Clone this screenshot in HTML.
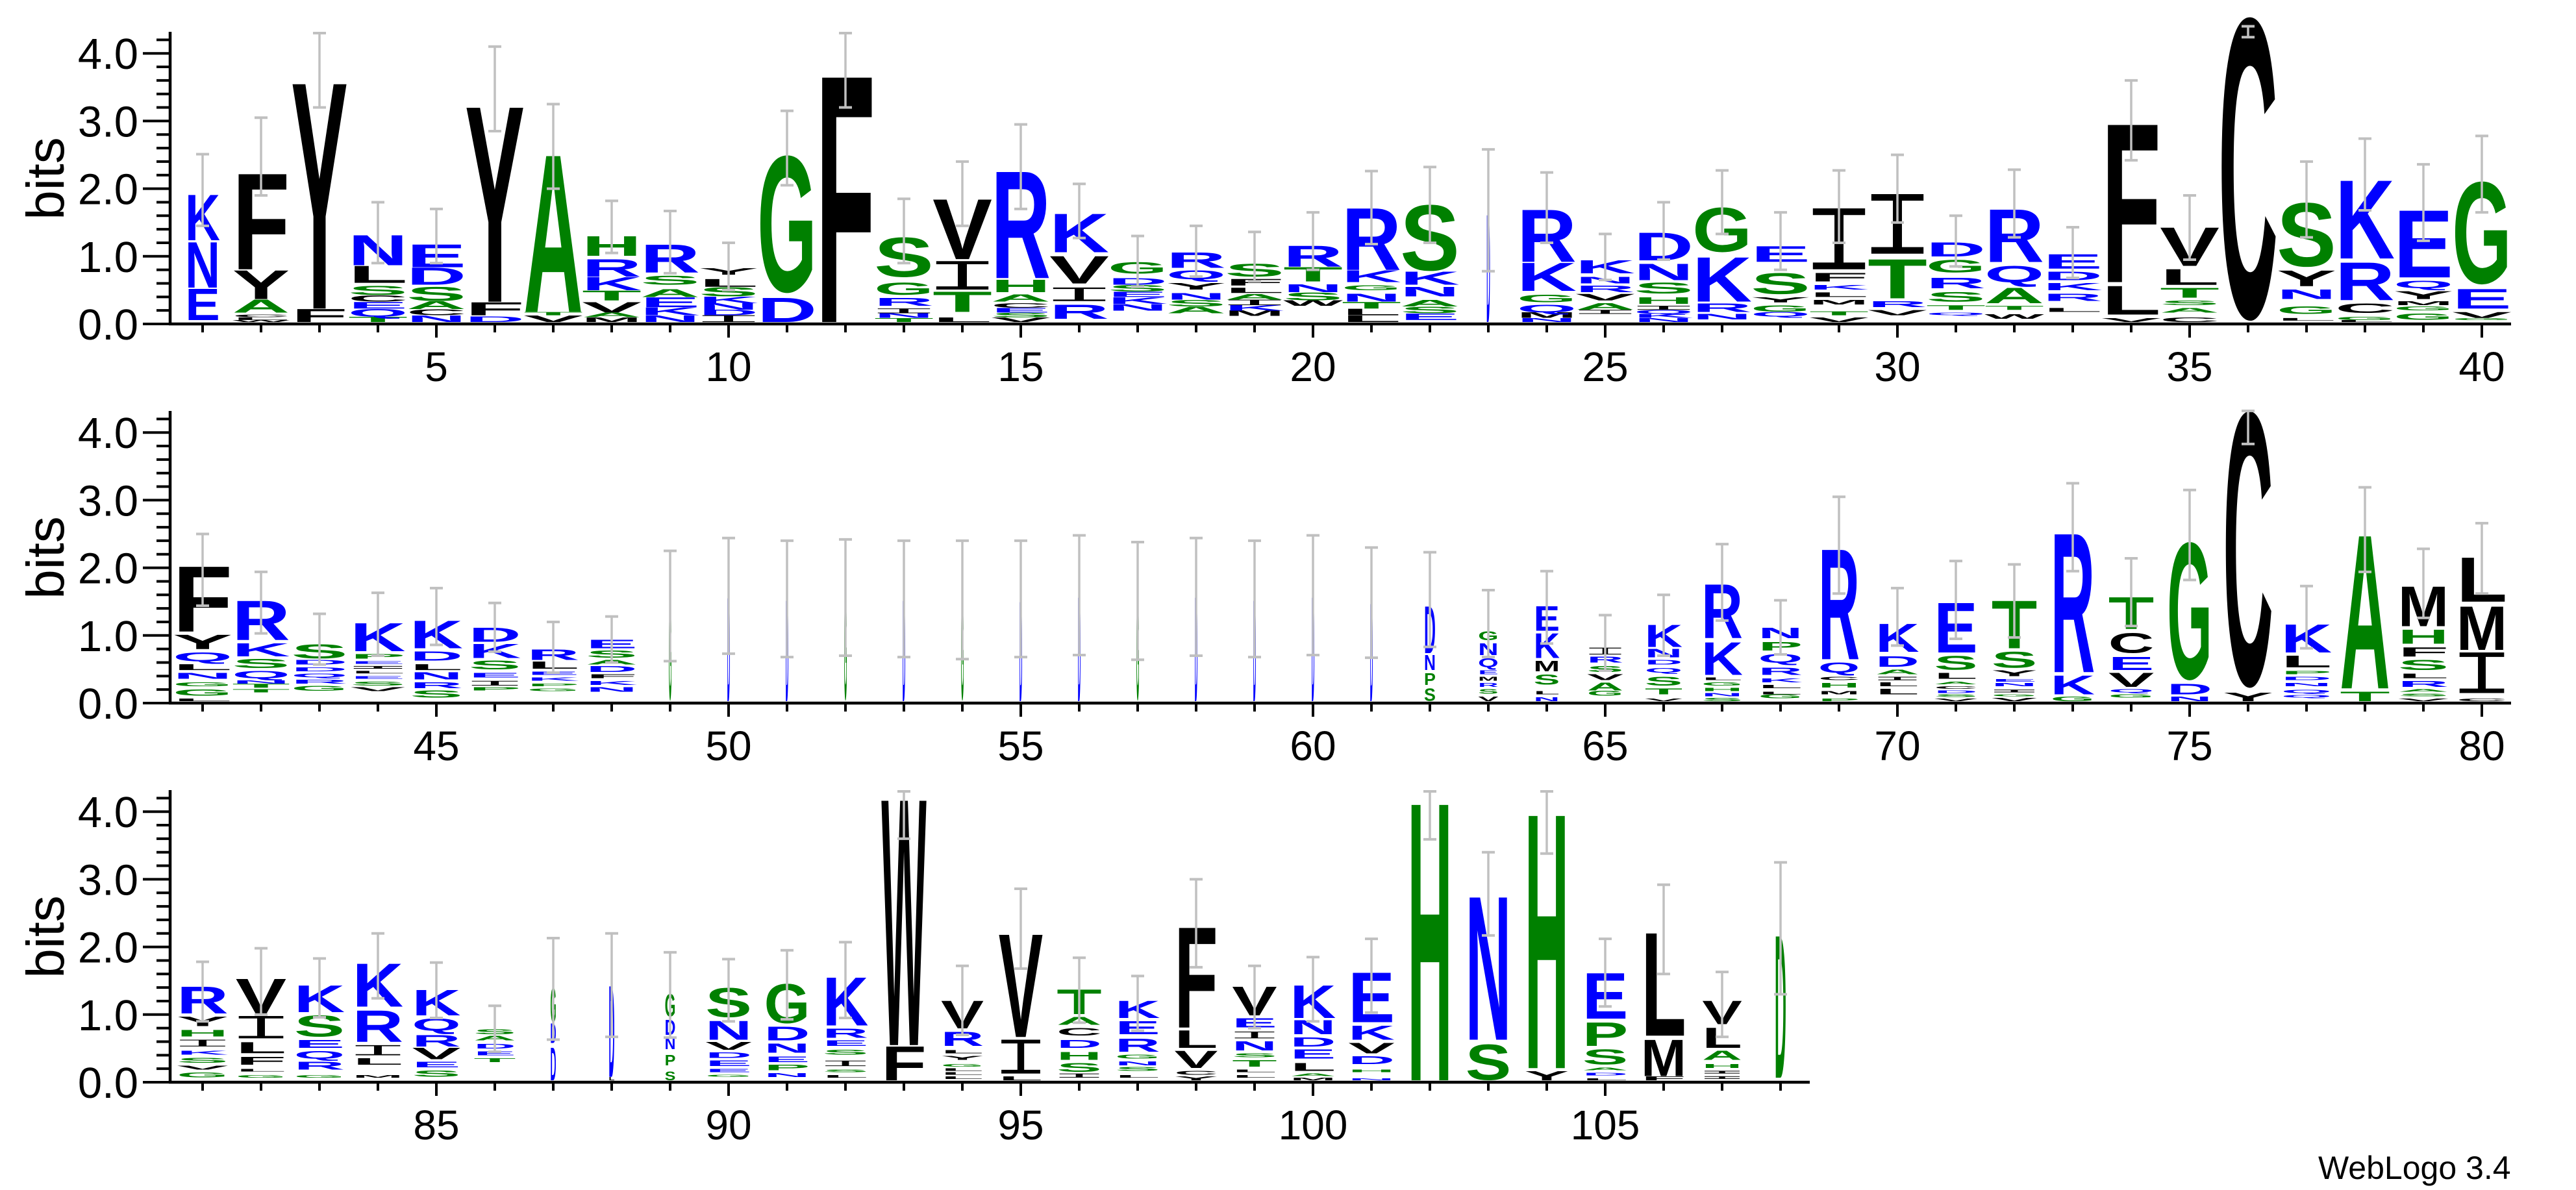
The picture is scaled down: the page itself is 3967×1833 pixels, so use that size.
<!DOCTYPE html>
<html><head><meta charset="utf-8"><style>
html,body{margin:0;padding:0;background:#fff;}
svg{display:block;font-family:"Liberation Sans",Arial,sans-serif;}
</style></head><body>
<svg id="s" width="3967" height="1833" viewBox="0 0 3967 1833" xmlns="http://www.w3.org/2000/svg">
<rect width="3967" height="1833" fill="#fff"/>
<g id="axes" font-size="67" fill="#000">
<text x="0" y="0" transform="translate(98,275) rotate(-90)" text-anchor="middle" font-size="82">bits</text>
<text x="0" y="0" transform="translate(98,859) rotate(-90)" text-anchor="middle" font-size="82">bits</text>
<text x="0" y="0" transform="translate(98,1443) rotate(-90)" text-anchor="middle" font-size="82">bits</text>
<text x="3570" y="1816" font-size="50">WebLogo 3.4</text>
</g>
<g id="logo"></g>
</svg>
<script>
var D=[
[48,1.45,2.51,"_.03 E.48 N.7 K.7"],
[79,1.9,3.05,"W.03 L.04 C.04 _.03 A.2 Y.44 F1.47"],
[78,3.2,4.3,"F.2 Y3.47"],
[82,.9,1.8,"T.08 Q.12 E.1 C.1 S.14 _.04 L.26 N.46"],
[82,.9,1.7,"N.1 C.09 A.12 S.22 _.02 D.26 E.35"],
[82,2.85,4.1,"D.08 _.02 F.2 Y3.0"],
[82,2.0,3.25,"V.1 T.05 A2.41"],
[82,1.05,1.82,"M.07 A.07 V.16 _.02 T.15 K.2 R.27 _.04 H.3"],
[82,.75,1.67,"N.1 K.12 E.15 A.12 _.06 S.14 _.04 R.43"],
[82,.5,1.2,"I.1 D.08 N.1 K.1 S.14 L.12 _.06 Y.1"],
[82,2.05,3.15,"D.37 _.05 G2.14"],
[82,3.2,4.3,"F3.78"],
[82,.9,1.85,"T.06 N.07 I.07 _.04 R.12 _.04 G.19 _.07 S.62"],
[82,1.45,2.4,"L.07 _.08 T.31 _.02 I.42 _.03 V.92"],
[82,1.7,2.95,"V.07 S.07 E.07 C.07 _.02 A.11 _.03 H.19 _.02 R1.64"],
[82,1.27,2.07,"_.05 R.22 _.04 I.2 _.06 V.42 _.04 K.59"],
[82,.55,1.3,"_.17 N.1 K.1 E.08 S.1 D.1 _.06 G.18"],
[82,.7,1.45,"_.13 A.1 S.1 N.1 _.05 Y.1 _.05 Q.14 _.03 R.24"],
[82,.63,1.36,"_.09 M.08 K.08 I.08 A.08 _.02 L.08 _.03 F.1 _.03 S.2"],
[82,.8,1.65,"_.24 W.08 S.12 N.12 _.04 T.22 R.32"],
[82,1.18,2.26,"L.1 L.1 T.1 N.12 _.05 G.08 _.04 K.18 R.95"],
[82,1.2,2.32,"_.03 E.1 S.1 A.1 _.05 N.15 _.02 K.2 S1.03"],
[5,.78,2.58,"D1.65"],
[82,1.2,2.24,"N.06 M.08 Q.12 _.03 G.12 _.05 K.43 R.8"],
[82,.65,1.33,"_.12 I.06 A.1 _.04 V.1 _.02 R.1 _.03 N.1 _.05 K.2"],
[82,.95,1.8,"N.06 K.06 Q.06 I.06 _.03 H.1 _.05 S.17 _.03 N.25 _.04 D.42"],
[82,1.33,2.27,"_.04 N.08 _.03 R.13 _.02 K.68 _.05 G.7"],
[82,.8,1.65,"_.08 Q.07 G.1 _.04 Y.08 _.04 S.33 _.15 E.24"],
[82,1.2,2.27,"V.07 _.03 T.06 _.1 M.07 _.04 L.07 _.04 K.07 _.05 F.13 _.05 I.9"],
[82,1.5,2.5,"_.1 V.08 _.04 R.09 _.04 T.6 _.06 I.88"],
[82,.85,1.6,"_.1 Q.04 _.04 T.07 _.05 S.15 _.05 R.16 _.07 G.2 _.04 D.22"],
[82,1.28,2.28,"_.05 W.07 _.06 T.06 _.04 A.24 _.06 Q.26 _.05 R.81"],
[82,.68,1.43,"_.15 L.06 _.1 R.11 _.05 K.11 _.04 D.13 _.04 E.22"],
[82,2.42,3.6,"V.06 _.05 L.44 _.04 F2.43"],
[82,.95,1.9,"C.07 _.07 A.07 _.04 S.07 _.04 T.15 _.04 L.24 _.04 V.59"],
[82,4.24,4.4,"C4.72"],
[82,1.28,2.4,"_.02 L.04 _.06 G.12 _.1 N.15 _.04 Y.24 _.04 S1.0"],
[82,1.68,2.74,"L.03 G.05 _.05 C.15 _.04 R.58 _.04 K1.2"],
[82,1.23,2.36,"_.03 G.1 _.04 G.06 _.02 M.06 _.03 Y.12 _.04 Q.11 _.05 E1.03"],
[82,1.65,2.78,"_.03 G.03 V.09 _.05 E.3 _.05 G1.6"],
[82,1.44,2.5,"L.04 _.04 G.1 _.04 G.06 _.05 N.09 _.04 L.09 _.04 Q.14 _.04 Y.22 _.04 F1.0"],
[80,1.03,1.94,"_.1 _.03 T.05 _.02 T.06 N.05 _.03 Q.11 _.04 S.14 _.03 K.2 _.04 R.6"],
[78,.57,1.32,"_.15 G.08 _.03 R.06 _.03 Q.06 _.03 D.06 _.04 D.07 _.02 S.22"],
[76,.7,1.63,"_.15 V.06 _.02 S.06 _.04 E.04 _.04 L.04 _.03 I.04 _.03 E.04 _.04 P.07 _.04 K.43"],
[73,.86,1.7,"_.05 S.11 _.03 R.09 _.04 N.11 _.03 L.09 _.05 D.14 _.04 K.42"],
[72,.76,1.48,"_.16 P.05 _.02 I.07 _.05 E.07 _.05 S.14 _.03 K.22 _.02 D.22"],
[72,.45,1.2,"_.15 G.04 _.03 P.04 _.04 K.05 _.04 E.05 _.04 L.11 _.02 R.16"],
[71,.6,1.28,"_.14 N.07 _.03 K.06 _.04 F.06 _.03 D.09 _.02 A.07 _.03 S.11 _.03 E.13"],
[4,.62,2.25,"G1.44"],[4,.73,2.44,"D1.59"],[4,.68,2.4,"D1.55"],[4,.7,2.42,"G1.57"],
[4,.68,2.4,"D1.55"],[4,.65,2.4,"G1.5"],[4,.68,2.4,"D1.53"],[4,.71,2.48,"D1.6"],
[4,.64,2.38,"G1.5"],[4,.7,2.44,"D1.6"],[4,.68,2.4,"D1.55"],[4,.71,2.48,"D1.6"],[4,.67,2.3,"D1.5"],
[16,.83,2.23,"S.2 _.04 P.18 _.04 N.23 _.02 D.72"],
[28,.68,1.67,"V.07 _.04 S.07 _.03 R.06 _.03 M.06 _.04 E.06 _.04 Q.14 _.04 N.18 _.04 G.14"],
[36,.88,1.95,"N.06 _.04 L.05 _.09 S.16 _.04 M.16 _.04 K.38 _.02 E.38"],
[50,.48,1.3,"_.08 G.08 A.12 _.03 V.09 _.03 S.09 _.05 R.09 _.03 I.1"],
[52,.7,1.6,"V.04 _.06 T.09 _.04 S.14 _.05 Q.07 _.05 D.07 _.04 N.13 _.02 K.34"],
[57,1.22,2.35,"S.05 _.02 N.05 _.03 H.05 _.03 G.05 _.03 L.04 _.04 K.5 _.04 R.83"],
[61,.72,1.52,"_.04 G.06 L.04 _.05 L.05 _.04 K.06 _.05 R.11 _.07 Q.13 _.05 P.13 _.05 N.16"],
[57,1.62,3.05,"P.04 _.06 M.05 _.05 H.07 _.04 C.05 _.06 Q.16 _.04 R1.69"],
[60,.85,1.7,"_.1 L.08 _.04 L.06 _.03 I.05 _.04 A.07 _.04 D.16 _.06 K.43"],
[60,.95,2.1,"V.04 _.02 S.04 _.02 D.04 _.02 C.04 _.03 A.04 _.04 L.09 _.04 S.22 _.04 E.76"],
[63,.97,2.05,"V.05 _.02 G.03 _.03 I.04 _.05 N.05 _.02 E.04 _.04 Y.09 _.03 S.25 _.04 T.73"],
[61,1.95,3.25,"G.07 _.03 K.29 _.04 R2.13"],
[63,1.14,2.14,"_.05 G.05 _.03 Q.05 _.03 V.22 _.03 E.2 _.05 C.31 _.05 T.49"],
[62,1.82,3.15,"N.07 _.03 D.16 _.04 G2.15"],
[69,3.83,4.32,"Y.13 _.05 C4.3"],
[70,.81,1.73,"_.05 Q.04 _.03 Q.05 _.05 N.05 _.04 D.05 _.04 P.05 _.05 L.18 _.04 K.43"],
[69,1.94,3.19,"T.15 _.04 A2.35"],
[70,1.26,2.28,"V.04 _.03 S.04 _.03 A.04 _.03 R.09 _.04 L.07 _.05 S.16 _.04 F.14 _.05 H.22 _.04 M.61"],
[70,1.62,2.66,"C.04 _.08 I.6 _.04 M.67 _.04 L.68"],
[71,.9,1.78,"_.04 G.08 _.04 V.06 _.04 S.08 _.04 K.06 _.06 I.1 _.05 H.1 _.05 Y.15 _.04 R.41"],
[70,1.0,1.98,"_.04 G.04 _.05 L.04 _.06 F.12 _.05 L.17 _.05 I.33 _.04 V.53"],
[70,.96,1.83,"_.04 G.04 _.08 R.12 _.04 Q.12 _.04 E.12 _.04 S.33 _.04 K.41"],
[70,1.24,2.2,"_.04 M.04 _.15 L.1 _.04 I.15 _.05 R.48 _.04 K.66"],
[67,.95,1.77,"_.05 S.1 _.04 E.08 _.04 V.17 _.02 R.17 _.06 Q.19 _.04 K.39"],
[58,.45,1.13,"_.27 T.06 _.04 E.06 _.04 D.07 _.05 A.07 _.02 S.08"],
[8,.63,2.13,"D.5 _.05 D.3 G.54"],
[8,.67,2.2,"L.05 D1.4"],
[15,.66,1.92,"S.14 _.08 P.16 _.08 N.17 _.04 D.23 _.04 G.35"],
[64,.9,1.82,"_.05 G.03 _.04 E.05 _.04 E.08 _.04 D.08 _.04 V.12 _.03 N.29 _.04 S.46"],
[63,.93,1.95,"_.05 N.06 _.04 P.08 _.04 E.08 _.06 N.14 _.04 D.21 _.04 G.62"],
[63,.95,2.07,"_.04 L.04 _.04 S.04 _.05 I.08 _.09 S.08 _.05 E.08 _.04 R.14 _.04 K.74"],
[62,3.6,4.3,"F.52 W3.78"],
[59,.7,1.72,"_.02 L.04 _.02 L.04 _.02 L.04 _.02 G.04 _.06 Y.06 _.04 L.05 _.06 R.22 _.04 V.42"],
[61,1.68,2.86,"L.06 _.04 I.5 _.04 V1.58"],
[62,.88,1.84,"_.04 I.06 _.02 S.14 _.04 H.12 _.06 D.12 _.06 C.12 _.04 A.12 _.04 T.38"],
[62,.76,1.57,"_.04 L.04 _.06 S.06 _.02 N.06 _.04 G.06 _.04 R.2 _.06 E.2 _.04 K.26"],
[60,1.7,3.0,"Y.06 _.02 C.06 _.04 V.26 _.04 L.27 _.03 F1.54"],
[62,.8,1.72,"_.04 L.04 _.04 L.04 _.04 T.1 _.04 S.06 _.04 N.14 _.04 I.1 _.06 E.14 _.04 V.44"],
[63,.9,1.85,"M.04 _.02 A.04 _.04 L.12 _.06 E.14 _.04 D.14 _.04 N.22 _.02 K.5"],
[64,1.03,2.12,"N.03 _.09 H.04 _.08 D.12 _.04 V.16 _.04 K.22 _.04 E.76"],
[62,3.59,4.3,"H4.26"],
[63,2.17,3.4,"S.56 _.04 N2.2"],
[61,3.38,4.3,"Y.14 _.04 H3.9"],
[63,1.12,2.12,"L.03 _.04 D.04 _.04 A.04 _.04 S.24 _.04 P.36 _.04 E.7"],
[62,1.6,2.92,"F.06 M.56 _.04 L1.58"],
[55,.67,1.63,"_.02 I.04 _.04 I.04 _.04 H.06 _.06 A.14 _.04 L.31 _.04 V.36"],
[16,1.3,3.25,"O2.26"]
];
var COL={K:"#0000ff",R:"#0000ff",N:"#0000ff",D:"#0000ff",E:"#0000ff",Q:"#0000ff",
G:"#008000",S:"#008000",T:"#008000",H:"#008000",A:"#008000",P:"#008000",O:"#008000"};
var BASE=[499,1083,1667],BIT=104.2,NS="http://www.w3.org/2000/svg";
var g=document.getElementById("logo"),ax=document.getElementById("axes");
function el(t,a,txt){var e=document.createElementNS(NS,t);for(var k in a)e.setAttribute(k,a[k]);if(txt!=null)e.textContent=txt;return e;}
D.forEach(function(c,i){
 var p=Math.floor(i/40),cx=312+90*(i%40),b=BASE[p]-3,w=c[0];
 var y=b;
 c[3].split(" ").forEach(function(t){
  var L=t[0],h=parseFloat(t.slice(1))*BIT;
  if(L=="I"&&h>0.5){
   var bw=w*0.98,bh=Math.max(h*0.11,1),sw=w*0.17,x0=cx-bw/2,yt=y-h;
   var d="M"+x0+","+yt+"h"+bw+"v"+bh+"h"+(-(bw-sw)/2)+"V"+(y-bh)+"h"+((bw-sw)/2)+"v"+bh+"h"+(-bw)+"v"+(-bh)+"h"+((bw-sw)/2)+"V"+(yt+bh)+"h"+(-(bw-sw)/2)+"z";
   g.appendChild(el("path",{d:d,fill:"#000"}));
  } else if(L!="_"&&h>0.5){
   var tw=w*1.12,sx=tw/100,sy=h/72;
   var round="CGOQS".indexOf(L)>=0;
   if(round)sy=h/74.5;
   var e=el("text",{transform:"translate("+(cx-tw/2).toFixed(1)+","+(y-(round?h*0.017:0)).toFixed(1)+") scale("+sx.toFixed(4)+","+sy.toFixed(4)+")",
    "font-size":"100","font-weight":"bold",fill:COL[L]||"#000",textLength:"100",lengthAdjust:"spacingAndGlyphs"},L=="O"?"D":L);
   g.appendChild(e);
  }
  y-=h;
 });
 var y1=BASE[p]-c[1]*BIT,y2=BASE[p]-c[2]*BIT;
 g.appendChild(el("line",{x1:cx,x2:cx,y1:y1,y2:y2,stroke:"#c0c0c0","stroke-width":3.5}));
 g.appendChild(el("line",{x1:cx-10,x2:cx+10,y1:y1,y2:y1,stroke:"#c0c0c0","stroke-width":4}));
 g.appendChild(el("line",{x1:cx-10,x2:cx+10,y1:y2,y2:y2,stroke:"#c0c0c0","stroke-width":4}));
});
for(var p=0;p<3;p++){
 var b=BASE[p],n=p<2?40:28,xe=312+90*(n-1)+45;
 ax.appendChild(el("line",{x1:262,x2:262,y1:b-450,y2:b+2,stroke:"#000","stroke-width":4.5}));
 ax.appendChild(el("line",{x1:260,x2:xe,y1:b,y2:b,stroke:"#000","stroke-width":4.5}));
 for(var k=0;k<=21;k++){
  var yy=b-k*0.2*BIT,maj=(k%5==0);
  ax.appendChild(el("line",{x1:maj?220:241,x2:262,y1:yy,y2:yy,stroke:"#000","stroke-width":4}));
  if(maj)ax.appendChild(el("text",{x:213,y:yy+24,"text-anchor":"end","font-size":"67"},(k/5).toFixed(1)));
 }
 for(var j=0;j<n;j++){
  var num=p*40+j+1,cx=312+90*j,m=(num%5==0);
  ax.appendChild(el("line",{x1:cx,x2:cx,y1:b,y2:b+(m?21:13),stroke:"#000","stroke-width":4}));
  if(m)ax.appendChild(el("text",{x:cx,y:b+88,"text-anchor":"middle","font-size":"64"},String(num)));
 }
}
</script>
</body></html>
